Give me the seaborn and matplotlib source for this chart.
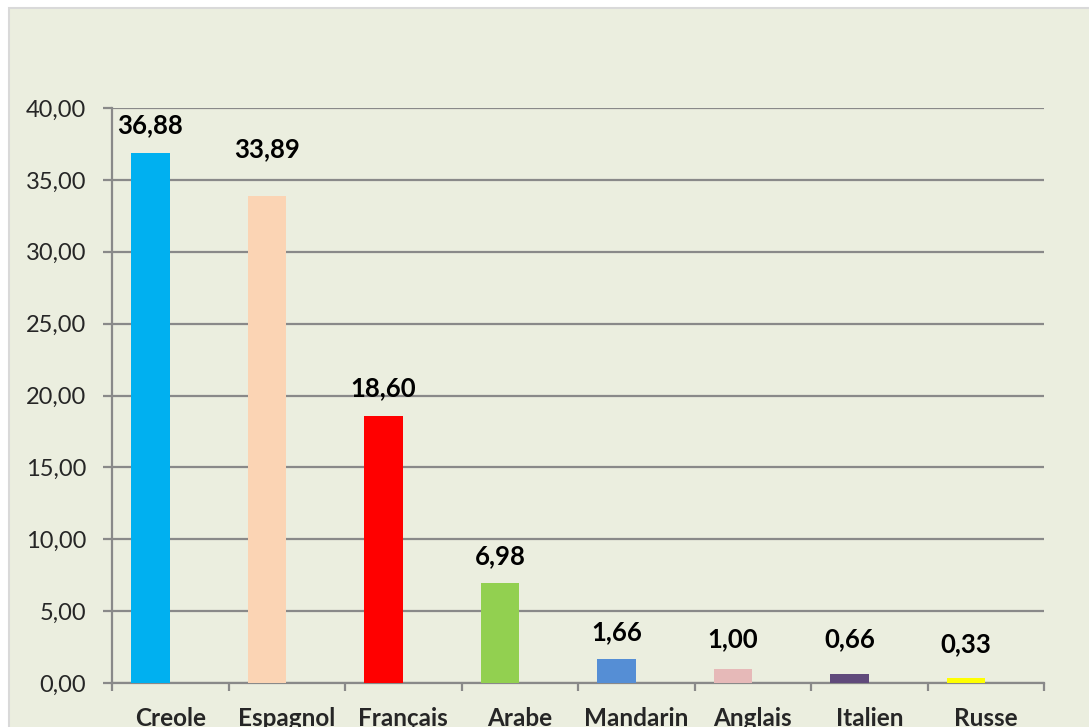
import numpy as np
import matplotlib
matplotlib.use("Agg")
import matplotlib.pyplot as plt
import seaborn as sns
from matplotlib.patches import Rectangle
from matplotlib.ticker import FuncFormatter

# data
langues = ["Creole", "Espagnol", "Français", "Arabe", "Mandarin", "Anglais", "Italien", "Russe"]
pourcentages = [36.88, 33.89, 18.60, 6.98, 1.66, 1.00, 0.66, 0.33]
couleurs = ["#00B0F0", "#FBD4B4", "#FF0000", "#92D050", "#558ED5", "#E6B9B8", "#604A7B", "#FFFF00"]
y_ticks = [0, 5, 10, 15, 20, 25, 30, 35, 40]

# label gap above each bar (px), labels were moved by hand in the original
label_gap_px = [20, 39, 19, 19, 19, 21, 26, 26]
# bars sit a bit left of the category centre in the original
bar_shift = -0.17

sns.set_style("white")
plt.rcParams['font.family'] = ['Lato', 'DejaVu Sans']

W, H = 1089, 727
fig = plt.figure(figsize=(W / 100, H / 100), dpi=100, facecolor="white")

# chart panel background
panel = Rectangle((9 / W, -0.02), 1.05, 1 - 8 / H + 0.02, transform=fig.transFigure,
                  facecolor="#EBEEDF", edgecolor="#D9D9D9", linewidth=1.5, zorder=0)
fig.add_artist(panel)

ax = fig.add_axes([112 / W, 44 / H, (1044 - 112) / W, 575 / H])
ax.set_facecolor("none")

sns.barplot(x=langues, y=pourcentages, hue=langues, palette=couleurs, legend=False,
            width=0.33, saturation=1, linewidth=0, ax=ax, zorder=3)
for p in ax.patches:
    p.set_x(p.get_x() + bar_shift)

ax.set_xlim(-0.5, len(langues) - 0.5)
ax.set_ylim(0, 40)
ax.set_yticks(y_ticks)
ax.yaxis.set_major_formatter(FuncFormatter(lambda v, p: f"{v:.2f}".replace(".", ",")))

grid_col = "#898989"
ax.grid(axis="y", color=grid_col, linewidth=1.6, zorder=1)
ax.set_axisbelow(True)
for s in ["top", "right"]:
    ax.spines[s].set_visible(False)
for s in ["left", "bottom"]:
    ax.spines[s].set_color(grid_col)
    ax.spines[s].set_linewidth(1.6)

ax.tick_params(axis="y", direction="out", length=6.5, width=1.6, color=grid_col,
               labelsize=17, pad=12, left=True)
ax.tick_params(axis="x", which="major", length=0, labelsize=17.5, pad=17)
ax.set_xticks(np.arange(-0.5, len(langues)), minor=True)
ax.tick_params(axis="x", which="minor", direction="out", length=6, width=1.6, color=grid_col, bottom=True)
for lab in ax.get_xticklabels():
    lab.set_fontweight("bold")
ax.set_xlabel("")
ax.set_ylabel("")

for i, (v, gap) in enumerate(zip(pourcentages, label_gap_px)):
    ax.annotate(f"{v:.2f}".replace(".", ","), xy=(i + bar_shift, v), xytext=(0, gap * 0.72),
                textcoords="offset points", ha="center", va="baseline",
                fontsize=18.5, fontweight="bold", color="black", zorder=5)

fig.savefig("out.png", dpi=100, facecolor="white")
